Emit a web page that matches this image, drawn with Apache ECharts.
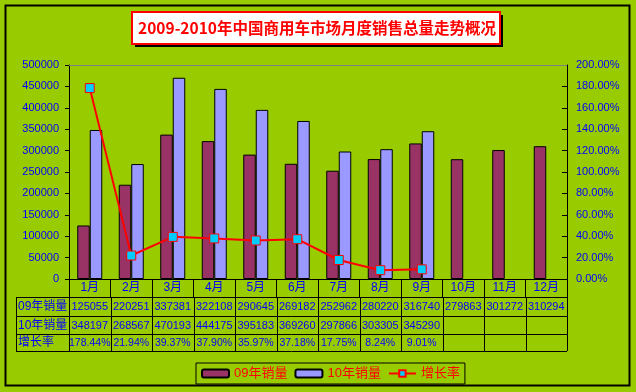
<!DOCTYPE html>
<html><head><meta charset="utf-8">
<script src="https://cdn.jsdelivr.net/npm/echarts@6/dist/echarts.min.js"></script>
<style>html,body{margin:0;padding:0;background:#99CC00}#c{width:636px;height:392px}</style>
</head><body><div id="c"></div>
<script>
const months = ['1月','2月','3月','4月','5月','6月','7月','8月','9月','10月','11月','12月'];
const sales09 = [125055,220251,337381,322108,290645,269182,252962,280220,316740,279863,301272,310294];
const sales10 = [348197,268567,470193,444175,395183,369260,297866,303305,345290,null,null,null];
const growth = [178.44,21.94,39.37,37.90,35.97,37.18,17.75,8.24,9.01,null,null,null];
const growthLabels = ['178.44%','21.94%','39.37%','37.90%','35.97%','37.18%','17.75%','8.24%','9.01%','','',''];
const seriesNames = ['09年销量','10年销量','增长率'];
const titleText = '2009-2010年中国商用车市场月度销售总量走势概况';

const FONT = '"Liberation Sans","Noto Sans CJK SC",sans-serif';
const BLUE = '#0000FF';
const chart = echarts.init(document.getElementById('c'), null, {renderer:'canvas'});
chart.setOption({
  animation:false,
  backgroundColor:'#99CC00',
  textStyle:{fontFamily:FONT},
  grid:{left:69,right:69,top:65,bottom:113},
  legend:{
    left:196, top:363, padding:[4,5], itemGap:7, itemWidth:27, itemHeight:8,
    borderColor:'#000', borderWidth:1,
    textStyle:{color:'#FF0000', fontSize:13, fontFamily:FONT},
    data:seriesNames
  },
  xAxis:{
    type:'category', data:months,
    axisLine:{lineStyle:{color:'#000',width:1}},
    axisTick:{show:true,length:18,lineStyle:{color:'#000'}},
    axisLabel:{color:BLUE,fontSize:12,margin:3,fontFamily:FONT,interval:0},
    splitLine:{show:false}
  },
  yAxis:[
    {type:'value',min:0,max:500000,interval:50000,
     axisLine:{show:true,lineStyle:{color:'#000'}},
     axisTick:{show:true,length:4,lineStyle:{color:'#000'}},
     axisLabel:{color:BLUE,fontSize:11,margin:10,fontFamily:FONT,formatter:v=>String(v)},
     splitLine:{show:false}},
    {type:'value',min:0,max:200,interval:20,position:'right',
     axisLine:{show:true,lineStyle:{color:'#000'}},
     axisTick:{show:true,inside:true,length:5,lineStyle:{color:'#000'}},
     axisLabel:{color:BLUE,fontSize:11,margin:9,fontFamily:FONT,formatter:v=>v.toFixed(2)+'%'},
     splitLine:{show:false}}
  ],
  series:[
    {name:seriesNames[0],type:'bar',data:sales09,barWidth:12.5,barGap:'0%',
     itemStyle:{color:'#993366',borderColor:'#000',borderWidth:1}},
    {name:seriesNames[1],type:'bar',data:sales10,barWidth:12.5,barGap:'0%',
     itemStyle:{color:'#9999FF',borderColor:'#000',borderWidth:1}},
    {name:seriesNames[2],type:'line',yAxisIndex:1,data:growth,
     symbol:'rect',symbolSize:9,
     lineStyle:{color:'#FF0000',width:2},
     itemStyle:{color:'#00CCFF',borderColor:'#FF0000',borderWidth:1}}
  ]
});

// build frame, title and data table from axis geometry
const c0 = chart.convertToPixel({xAxisIndex:0}, 0);
const c1 = chart.convertToPixel({xAxisIndex:0}, 1);
const step = c1 - c0;
const gl = c0 - step/2, gr = gl + step*months.length;
const gt = chart.convertToPixel({yAxisIndex:0}, 500000);
const gb = chart.convertToPixel({yAxisIndex:0}, 0);
const tl = 16;
const rowY = [gb+18, gb+37, gb+55, gb+72];
const g = [];
const line = (x1,y1,x2,y2,color,w)=>g.push({type:'line',shape:{x1,y1,x2,y2},style:{stroke:color||'#000',lineWidth:w||1},z:10});
// outer border
g.push({type:'rect',shape:{x:5.5,y:5.5,width:624,height:380},style:{fill:null,stroke:'#000',lineWidth:2},z:1});
// plot top border
line(gl,gt+0.5,gr,gt+0.5,'#808080',1);
// title
g.push({type:'rect',shape:{x:135,y:15,width:368,height:32},style:{fill:'#000'},z:20});
g.push({type:'rect',shape:{x:132,y:12,width:368,height:32},style:{fill:'#fff',stroke:'#FF0000',lineWidth:2},z:21});
g.push({type:'text',x:317,y:28,style:{text:titleText,fill:'#FF0000',font:'bold 15.5px "Noto Sans CJK SC","Liberation Sans",sans-serif',textAlign:'center',textVerticalAlign:'middle'},z:22});
// table lines
rowY.forEach(y=>line(tl,Math.round(y)+0.5,gr,Math.round(y)+0.5));
line(tl+0.5,rowY[0],tl+0.5,rowY[3]);
for(let i=0;i<=months.length;i++){
  const x = Math.round(gl+i*step)+0.5;
  line(x,rowY[0],x,rowY[3]);
}
// table text
const rows = [sales09.map(v=>v==null?'':String(v)), sales10.map(v=>v==null?'':String(v)), growthLabels];
rows.forEach((r,ri)=>{
  const yc = (rowY[ri]+rowY[ri+1])/2 + 0.5;
  g.push({type:'text',x:18,y:yc,style:{text:seriesNames[ri],fill:BLUE,font:'12px '+FONT,textVerticalAlign:'middle'},z:12});
  r.forEach((t,i)=>{
    if(!t) return;
    const xc = chart.convertToPixel({xAxisIndex:0}, i);
    g.push({type:'text',x:xc,y:yc,style:{text:t,fill:BLUE,font:(ri===2?'10.5px ':'11px ')+FONT,textAlign:'center',textVerticalAlign:'middle'},z:12});
  });
});
chart.setOption({graphic:g});
</script>
</body></html>
